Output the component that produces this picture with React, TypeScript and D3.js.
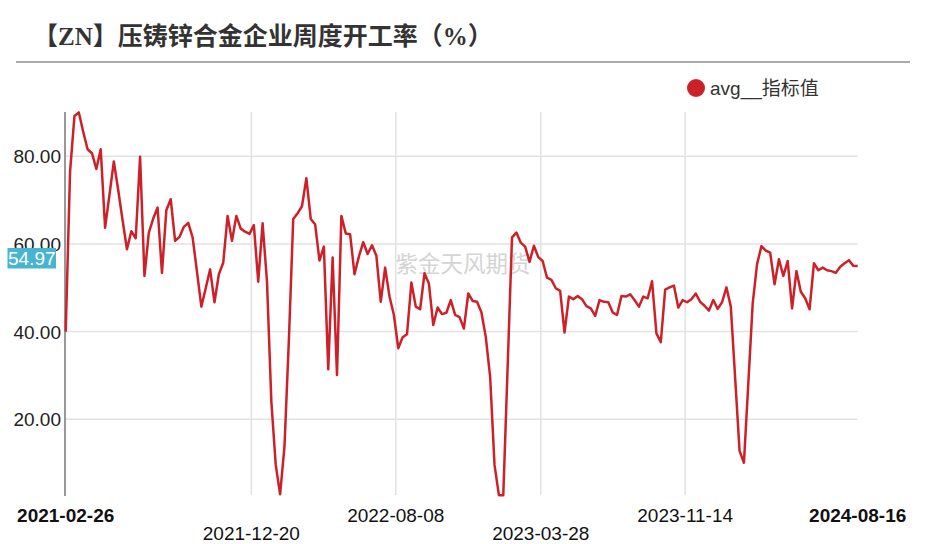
import React from "react";
import * as d3 from "d3";

const title = "【ZN】压铸锌合金企业周度开工率（%）";
const legendLabel = "avg__指标值";
const watermark = "紫金天风期货";
const startDate = "2021-02-26";
const endDate = "2024-08-16";

const values: number[] = [
  40.0, 76.5, 89.2, 90.0, 85.6, 81.6, 80.7, 77.1, 81.6, 63.7,
  71.2, 78.8, 72.3, 65.4, 58.8, 62.9, 61.3, 79.9, 52.7, 62.6,
  65.8, 68.3, 53.4, 67.7, 70.2, 60.7, 61.6, 63.9, 64.8, 61.5,
  53.7, 45.7, 49.9, 54.2, 46.7, 53.1, 55.7, 66.4, 60.7, 66.4,
  63.5, 62.8, 62.3, 64.3, 51.4, 64.7, 51.4, 24.0, 9.6, 2.9,
  13.8, 38.0, 65.7, 67.0, 68.6, 75.0, 65.7, 64.5, 56.2, 59.4,
  31.4, 56.9, 30.1, 66.4, 62.4, 62.2, 53.1, 57.1, 60.4, 57.7,
  59.7, 57.3, 46.8, 54.6, 48.0, 43.8, 36.2, 38.7, 39.4, 51.2,
  45.7, 45.1, 53.3, 51.0, 41.5, 45.5, 44.0, 44.3, 47.2, 43.8,
  43.3, 40.7, 48.7, 47.0, 46.8, 44.4, 38.8, 29.7, 9.6, 2.7,
  2.7, 32.0, 61.5, 62.6, 60.3, 59.4, 55.9, 59.6, 57.0, 56.1,
  52.3, 51.8, 49.9, 49.3, 39.8, 48.0, 47.4, 48.1, 47.4, 45.8,
  45.3, 43.6, 47.2, 46.8, 46.7, 44.4, 43.8, 48.1, 48.0, 48.5,
  47.2, 45.7, 48.0, 47.6, 51.5, 39.6, 37.6, 49.6, 50.1, 50.5,
  45.5, 47.2, 46.7, 47.4, 48.7, 46.8, 45.9, 44.8, 47.2, 45.2,
  46.7, 50.1, 45.7, 29.3, 12.8, 10.1, 28.2, 46.4, 55.4, 59.5,
  58.5, 58.0, 50.8, 56.5, 52.7, 56.1, 45.3, 53.8, 49.1, 47.6,
  45.1, 55.6, 54.0, 54.6, 54.0, 53.8, 53.4, 54.8, 55.6, 56.3,
  55.0, 54.97,
];

const xTickLabels = ["2021-02-26", "2021-12-20", "2022-08-08", "2023-03-28", "2023-11-14", "2024-08-16"];
const yTicks = [20, 40, 60, 80];
const yDomain = [2.73, 90.1];
const lastValue = 54.97;

const parse = d3.utcParse("%Y-%m-%d");

export default function App() {
  const W = 926, H = 544;
  const left = 65.7, right = 857.7, top = 112, bottom = 495;
  const start = parse(startDate)!;
  const end = parse(endDate)!;
  const dates = values.map((_, i) => d3.utcDay.offset(start, i * 7));
  const x = d3.scaleUtc().domain([start, end]).range([left, right]);
  const y = d3.scaleLinear().domain(yDomain).range([bottom, top]);
  const line = d3
    .line<number>()
    .x((_, i) => x(dates[i]))
    .y((d) => y(d));
  const font = "Arial, 'Liberation Sans', 'Noto Sans CJK SC', sans-serif";
  const tickDates = xTickLabels.map((s) => parse(s)!);

  return (
    <svg
      width={W}
      height={H}
      style={{ position: "absolute", left: 0, top: 0, background: "#fff" }}
      fontFamily={font}
    >
      <rect x={0} y={0} width={W} height={H} fill="#fff" />
      <text
        x={33}
        y={45}
        fontSize={25}
        fontWeight="bold"
        fill="#333"
        fontFamily="'Liberation Serif', 'Noto Sans CJK SC', serif"
      >
        {title}
      </text>
      <line x1={16} x2={910} y1={62} y2={62} stroke="#aaa" strokeWidth={2} />

      {/* legend */}
      <circle cx={696} cy={88} r={9} fill="#cd2129" />
      <text x={710} y={94.5} fontSize={19} fill="#333">
        {legendLabel}
      </text>

      {/* grid */}
      {yTicks.map((t) => (
        <line key={"gy" + t} x1={left} x2={right} y1={y(t)} y2={y(t)} stroke="#e2e2e2" strokeWidth={1.5} />
      ))}
      {tickDates.slice(1, -1).map((d, i) => (
        <line key={"gx" + i} x1={x(d)} x2={x(d)} y1={top} y2={bottom} stroke="#e2e2e2" strokeWidth={1.5} />
      ))}

      <text
        x={463}
        y={272}
        fontSize={22.5}
        fill="#d4d4d4"
        textAnchor="middle"
        fontFamily="'Noto Sans CJK SC', sans-serif"
      >
        {watermark}
      </text>

      {/* y axis */}
      <line x1={65} x2={65} y1={top} y2={bottom + 1} stroke="#333" strokeWidth={1} />
      {yTicks.map((t) => (
        <text key={"yl" + t} x={61} y={y(t) + 7} fontSize={19} fill="#222" textAnchor="end">
          {t.toFixed(2)}
        </text>
      ))}

      {/* x labels */}
      {tickDates.map((d, i) => {
        const isEdge = i === 0 || i === tickDates.length - 1;
        const lower = !isEdge && i % 2 === 1;
        return (
          <text
            key={"xl" + i}
            x={x(d)}
            y={lower ? 540 : 522}
            fontSize={19}
            fontWeight={isEdge ? "bold" : "normal"}
            fill="#111"
            textAnchor="middle"
          >
            {xTickLabels[i]}
          </text>
        );
      })}

      {/* line */}
      <path d={line(values) || ""} fill="none" stroke="#cd2129" strokeWidth={2.5} strokeLinejoin="round" />

      {/* current value badge */}
      <rect x={7.5} y={248} width={48.5} height={20.5} fill="#47b4d0" />
      <text x={31.75} y={265} fontSize={19} fill="#fff" textAnchor="middle">
        {lastValue.toFixed(2)}
      </text>
    </svg>
  );
}
